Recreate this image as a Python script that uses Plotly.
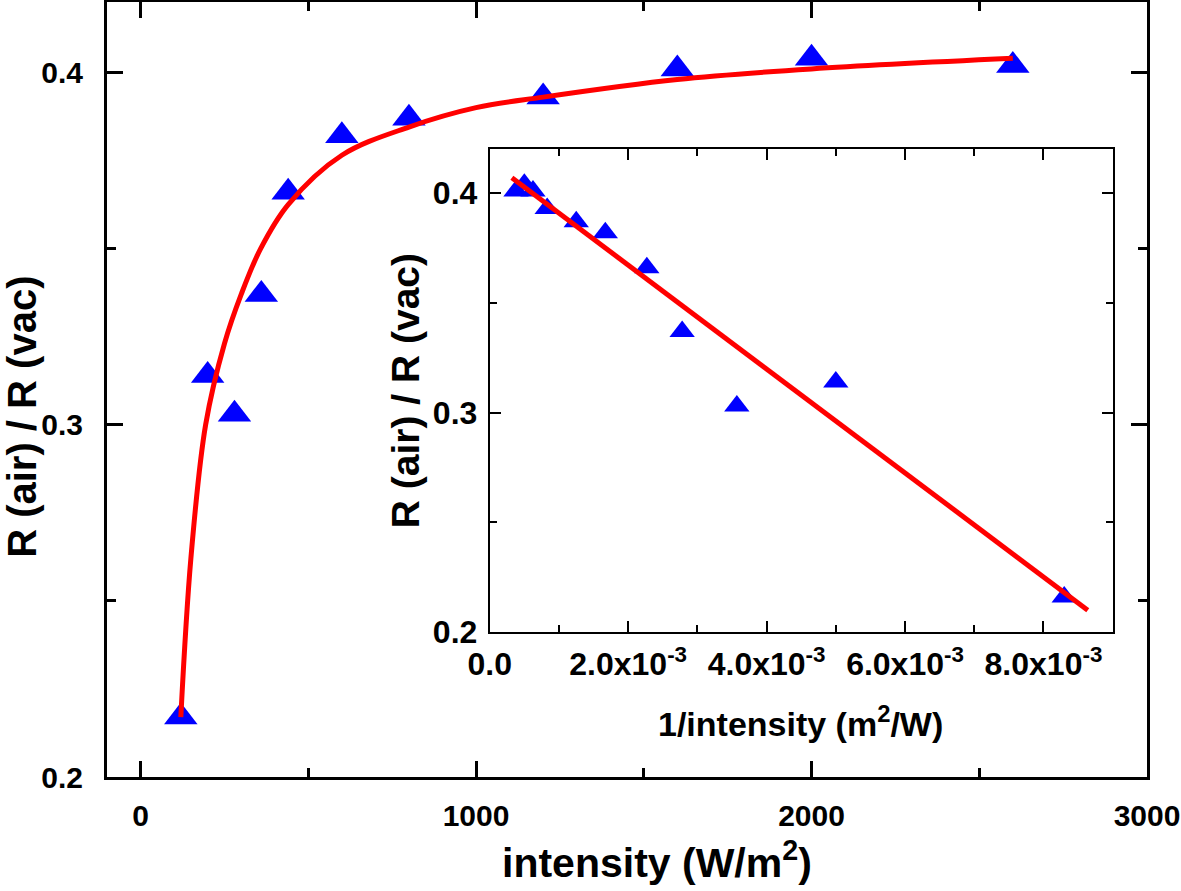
import plotly.graph_objects as go

# measured points (main panel)
intensity = [120, 200, 280, 360, 440, 600, 800, 1200, 1600, 2000, 2600]
ratio = [0.217, 0.314, 0.303, 0.337, 0.366, 0.382, 0.387, 0.393, 0.401, 0.404, 0.402]

# same points against 1/intensity (inset)
inv_intensity = [8.3e-3, 5.0e-3, 3.57e-3, 2.78e-3, 2.27e-3, 1.67e-3, 1.25e-3, 0.83e-3, 0.625e-3, 0.5e-3, 0.38e-3]
inv_ratio = [0.216, 0.314, 0.303, 0.337, 0.366, 0.382, 0.387, 0.393, 0.401, 0.404, 0.401]

# fitted curve
fit_int = [120, 150, 194, 250, 300, 358, 440, 600, 800, 1000, 1200, 1600, 2000, 2600]
fit_ratio = [0.217, 0.262, 0.300, 0.323, 0.337, 0.350, 0.3625, 0.3765, 0.3845, 0.390, 0.393, 0.398, 0.401, 0.404]

# fitted line in the inset
fit_inv = [0.32e-3, 8.64e-3]
fit_line = [0.407, 0.210]

inset_ticks = [0, 0.002, 0.004, 0.006, 0.008]
inset_ticktext = ["0.0", "2.0x10<sup>-3</sup>", "4.0x10<sup>-3</sup>",
                  "6.0x10<sup>-3</sup>", "8.0x10<sup>-3</sup>"]

FONT = "Liberation Sans, Arial, sans-serif"
BLUE = "#0000ff"
RED = "#ff0000"

fig = go.Figure()

# main panel
fig.add_trace(go.Scatter(x=intensity, y=ratio, mode="markers",
                         marker=dict(symbol="triangle-up", size=29, color=BLUE),
                         xaxis="x", yaxis="y"))
fig.add_trace(go.Scatter(x=fit_int, y=fit_ratio, mode="lines",
                         line=dict(color=RED, width=5, shape="spline", smoothing=1.0),
                         xaxis="x", yaxis="y"))

# inset
fig.add_trace(go.Scatter(x=inv_intensity, y=inv_ratio, mode="markers",
                         marker=dict(symbol="triangle-up", size=22, color=BLUE),
                         xaxis="x2", yaxis="y2"))
fig.add_trace(go.Scatter(x=fit_inv, y=fit_line, mode="lines",
                         line=dict(color=RED, width=5),
                         xaxis="x2", yaxis="y2"))

tick_font = dict(family=FONT, size=30, color="black", weight="bold")
inset_tick_font = dict(family=FONT, size=32, color="black", weight="bold")

main_axis = dict(showline=True, linecolor="black", linewidth=3, mirror="allticks",
                 ticks="inside", ticklen=16, tickwidth=3, tickcolor="black",
                 showgrid=False, zeroline=False, tickfont=tick_font, automargin=False)
inset_axis = dict(showline=True, linecolor="black", linewidth=2, mirror="allticks",
                  ticks="inside", ticklen=11, tickwidth=2, tickcolor="black",
                  showgrid=False, zeroline=False, tickfont=inset_tick_font, automargin=False)

fig.update_layout(
    width=1181, height=891,
    margin=dict(l=107, r=34, t=2, b=114),
    paper_bgcolor="white", plot_bgcolor="white",
    showlegend=False,
    xaxis=dict(main_axis, domain=[0, 1], range=[-100, 3000], tick0=0, dtick=1000,
               ticklabelstandoff=10,
               minor=dict(dtick=500, ticks="inside", ticklen=9, tickwidth=3, tickcolor="black")),
    yaxis=dict(main_axis, domain=[0, 1], range=[0.2, 0.42], tick0=0, dtick=0.1,
               tickformat=".1f", ticklabelstandoff=15,
               minor=dict(dtick=0.05, ticks="inside", ticklen=9, tickwidth=3, tickcolor="black")),
    xaxis2=dict(inset_axis, domain=[0.368, 0.967], anchor="y2", range=[0, 0.009],
                tickmode="array", tickvals=inset_ticks, ticktext=inset_ticktext,
                ticklabelstandoff=3,
                minor=dict(tickvals=[0.001, 0.003, 0.005, 0.007], ticks="inside",
                           ticklen=7, tickwidth=2, tickcolor="black")),
    yaxis2=dict(inset_axis, domain=[0.187, 0.810], anchor="x2", range=[0.2, 0.42],
                tick0=0, dtick=0.1, tickformat=".1f", ticklabelstandoff=4,
                minor=dict(dtick=0.05, ticks="inside", ticklen=7, tickwidth=2, tickcolor="black")),
)

fig.add_annotation(text="intensity (W/m<sup>2</sup>)", xref="paper", yref="paper",
                   x=0.529, y=-0.107, showarrow=False,
                   font=dict(family=FONT, size=41, color="black", weight="bold"),
                   xanchor="center", yanchor="middle")
fig.add_annotation(text="R (air) / R (vac)", xref="paper", yref="paper",
                   x=-0.0825, y=0.465, showarrow=False, textangle=-90,
                   font=dict(family=FONT, size=40, color="black", weight="bold"),
                   xanchor="center", yanchor="middle")
fig.add_annotation(text="1/intensity (m<sup>2</sup>/W)", xref="paper", yref="paper",
                   x=0.667, y=0.072, showarrow=False,
                   font=dict(family=FONT, size=34, color="black", weight="bold"),
                   xanchor="center", yanchor="middle")
fig.add_annotation(text="R (air) / R (vac)", xref="paper", yref="paper",
                   x=0.2865, y=0.499, showarrow=False, textangle=-90,
                   font=dict(family=FONT, size=39, color="black", weight="bold"),
                   xanchor="center", yanchor="middle")

# drop the page's default body margin so the figure sits at the window's corner
fig.write_html("out.html", config={"displayModeBar": False},
               post_script="document.body.style.margin = '0';")
